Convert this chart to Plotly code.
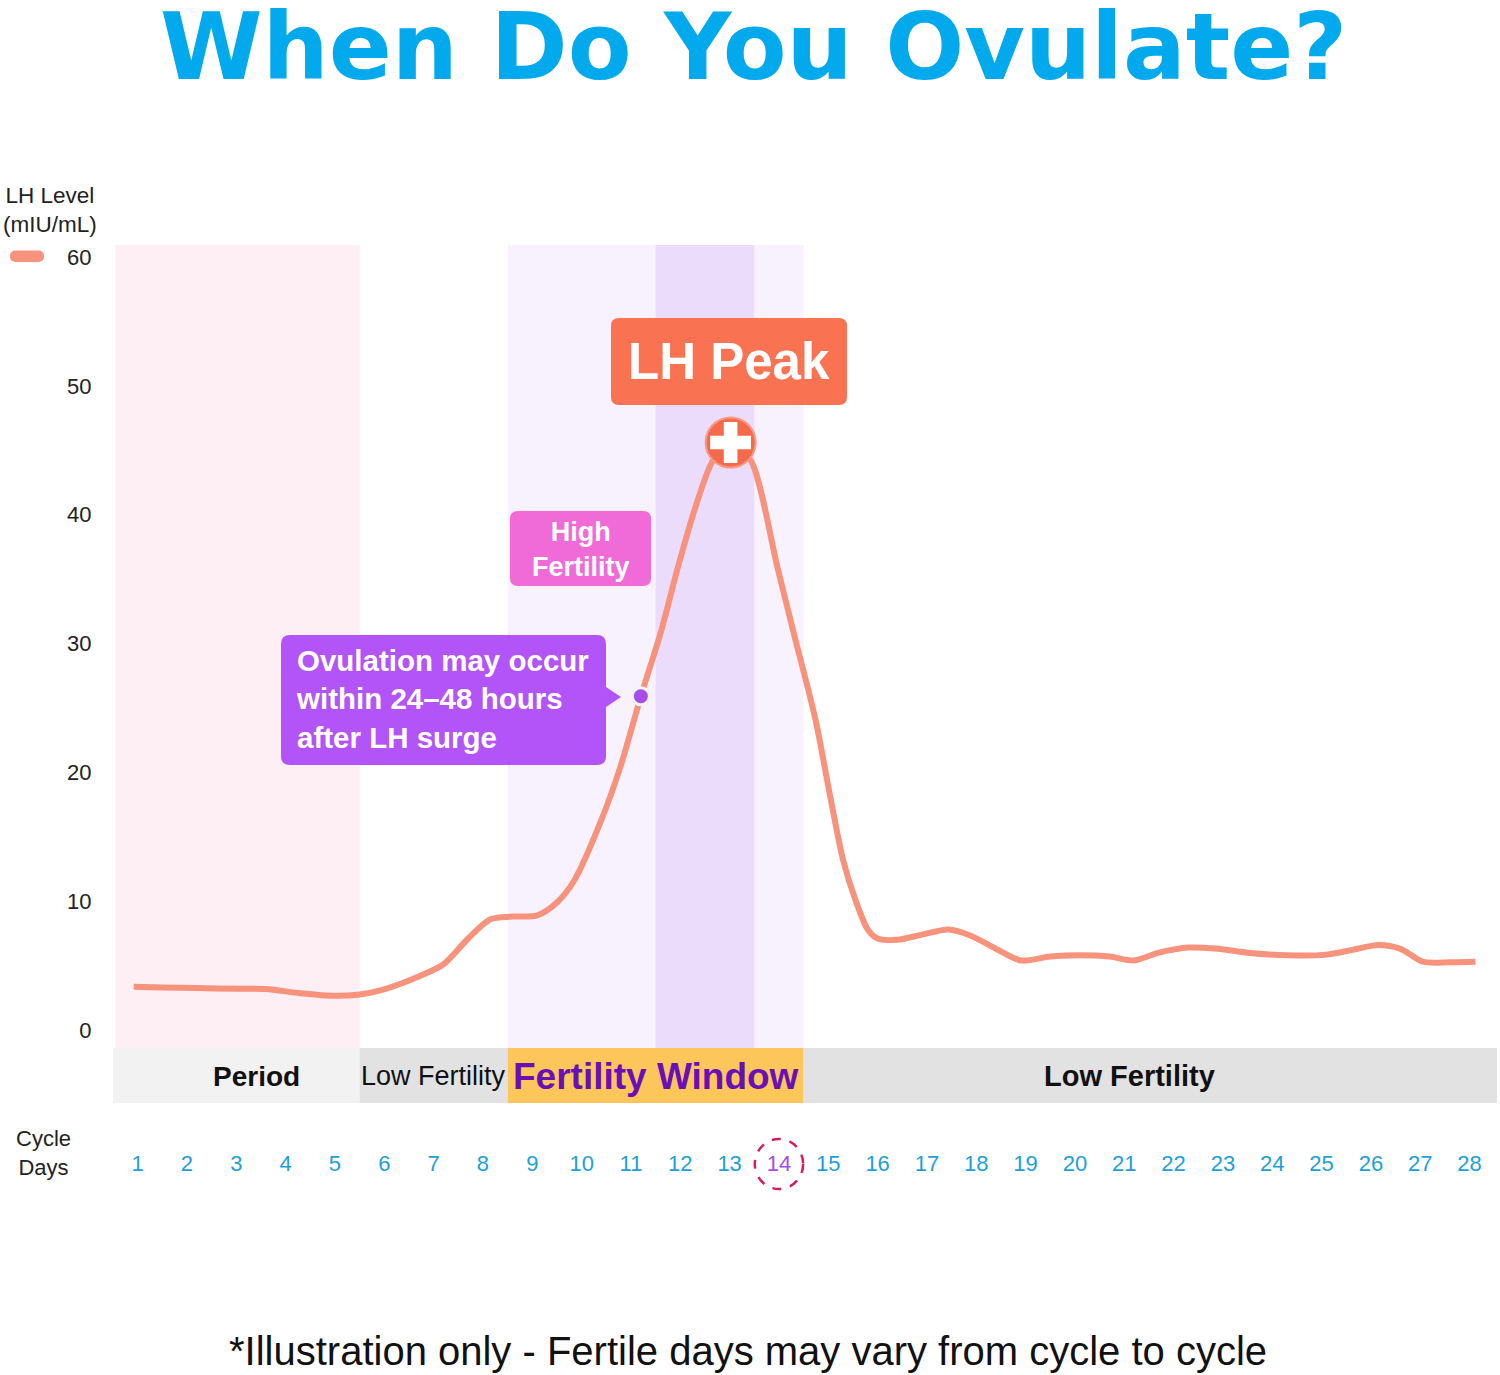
import plotly.graph_objects as go

# ---------------- data ----------------
lh_days = [0.92, 1.5, 2.2, 3.0, 3.6, 4.3, 5.0, 5.5, 5.9, 6.6, 7.2, 7.7, 8.15, 8.6, 9.1,
           9.5, 9.85, 10.4, 10.8, 11.2, 11.6, 11.95, 12.3, 12.66, 13.02, 13.43, 13.97,
           14.3, 14.74, 15.05, 15.3, 15.55, 15.8, 16.0, 16.4, 16.9, 17.44, 17.9, 18.4,
           18.9, 19.5, 20.1, 20.7, 21.2, 21.7, 22.3, 22.9, 23.5, 24.3, 25.1, 25.6,
           26.15, 26.6, 27.05, 27.6, 28.12]
lh_values = [3.35, 3.3, 3.25, 3.2, 3.18, 2.85, 2.65, 2.75, 3.05, 4.0, 5.1, 7.1, 8.6, 8.8, 8.9,
             9.9, 11.6, 16.3, 20.6, 25.9, 30.8, 35.9, 40.5, 44.2, 45.6, 44.2, 35.9,
             30.8, 24.1, 17.9, 13.2, 10.1, 7.8, 7.1, 7.0, 7.4, 7.8, 7.3, 6.3,
             5.4, 5.7, 5.8, 5.7, 5.4, 6.0, 6.4, 6.3, 6.0, 5.8, 5.85, 6.2,
             6.6, 6.3, 5.3, 5.25, 5.3]
ovulation_day = 11.2

cycle_days = list(range(1, 29))
highlight_day = 14
y_ticks = [0, 10, 20, 30, 40, 50, 60]

phase_names = ["Period", "Low Fertility", "Fertility Window", "Low Fertility"]
phase_start = [0.5, 5.5, 8.5, 14.5]
phase_end = [5.5, 8.5, 14.5, 28.556]
phase_label_x = [3.4, 7.0, 11.5, 21.1]

period_shade = (0.55, 5.5)
fertile_shade = (8.5, 14.5)
peak_shade = (11.5, 13.5)

# ---------------- geometry ----------------
W, H = 1500, 1375
L, R, T, B = 113, 3, 245, 272
PW, PH = W - L - R, H - T - B


def px(x):
    return (x - L) / PW


def py(y):
    return (H - B - y) / PH


def rrect(x0, y0, x1, y1, r, pointer=None):
    pts = f"M {px(x0 + r)} {py(y0)} L {px(x1 - r)} {py(y0)} Q {px(x1)} {py(y0)} {px(x1)} {py(y0 + r)} "
    if pointer:
        ya, yb, xt, yt = pointer
        pts += f"L {px(x1)} {py(ya)} L {px(xt)} {py(yt)} L {px(x1)} {py(yb)} "
    pts += (f"L {px(x1)} {py(y1 - r)} Q {px(x1)} {py(y1)} {px(x1 - r)} {py(y1)} "
            f"L {px(x0 + r)} {py(y1)} Q {px(x0)} {py(y1)} {px(x0)} {py(y1 - r)} "
            f"L {px(x0)} {py(y0 + r)} Q {px(x0)} {py(y0)} {px(x0 + r)} {py(y0)} Z")
    return pts


fig = go.Figure()

# LH curve
fig.add_trace(go.Scatter(
    x=lh_days, y=lh_values, mode="lines",
    line=dict(color="#f7937c", width=6, shape="spline", smoothing=0.8),
    hoverinfo="skip", showlegend=False))

# peak marker
pk = max(range(len(lh_values)), key=lambda i: lh_values[i])
fig.add_trace(go.Scatter(
    x=[lh_days[pk]], y=[lh_values[pk]], mode="markers",
    marker=dict(symbol="circle", size=50, color="#f46a4b",
                line=dict(color="#f89a84", width=2)),
    hoverinfo="skip", showlegend=False))
fig.add_trace(go.Scatter(
    x=[lh_days[pk]], y=[lh_values[pk]], mode="markers",
    marker=dict(symbol="cross", size=34, color="white", line=dict(width=0)),
    hoverinfo="skip", showlegend=False))

# ovulation marker
oi = lh_days.index(ovulation_day)
fig.add_trace(go.Scatter(
    x=[ovulation_day], y=[lh_values[oi]], mode="markers",
    marker=dict(symbol="circle", size=17, color="#a64de6",
                line=dict(color="#f2f2f2", width=3)),
    hoverinfo="skip", showlegend=False))

shapes = []
# background shading
for (a, b), col in [(period_shade, "#fdeff3"), (fertile_shade, "#f7f2fd"), (peak_shade, "#ebdcfc")]:
    shapes.append(dict(type="rect", xref="x", yref="paper", x0=a, x1=b,
                       y0=py(1048), y1=1, fillcolor=col, line=dict(width=0), layer="below"))

# phase band
band_cols = ["#f2f2f2", "#e2e2e2", "#fdc65a", "#e2e2e2"]
for a, b, col in zip(phase_start, phase_end, band_cols):
    shapes.append(dict(type="rect", xref="x", yref="paper", x0=a, x1=b,
                       y0=0, y1=py(1048), fillcolor=col, line=dict(width=0), layer="below"))

# callout boxes
shapes.append(dict(type="path", xref="paper", yref="paper", path=rrect(611, 318, 847, 405, 8),
                   fillcolor="#f97352", line=dict(width=0), layer="above"))
shapes.append(dict(type="path", xref="paper", yref="paper", path=rrect(510, 511, 651, 586, 8),
                   fillcolor="#f06bd8", line=dict(width=0), layer="above"))
shapes.append(dict(type="path", xref="paper", yref="paper",
                   path=rrect(281, 635, 606, 765, 9, pointer=(687, 707, 621, 697)),
                   fillcolor="#b354f8", line=dict(width=0), layer="above"))

# legend pill
shapes.append(dict(type="path", xref="paper", yref="paper", path=rrect(10, 250.5, 44, 262, 5.7),
                   fillcolor="#f7937c", line=dict(width=0), layer="above"))

# dashed circle around highlighted day
shapes.append(dict(type="circle", xref="x", yref="paper",
                   x0=highlight_day - 0.49, x1=highlight_day + 0.49,
                   y0=py(1189), y1=py(1139), line=dict(color="#d81b60", width=2.5, dash="dash"),
                   fillcolor="rgba(0,0,0,0)"))

ann = []
ann.append(dict(text="<b>When Do You Ovulate?</b>", xref="paper", yref="paper",
                x=px(753), y=py(47), xanchor="center", yanchor="middle", showarrow=False,
                font=dict(family="DejaVu Sans, sans-serif", size=93, color="#02a9ec", weight=900)))
ann.append(dict(text="*Illustration only - Fertile days may vary from cycle to cycle", xref="paper", yref="paper",
                x=px(748), y=py(1351), xanchor="center", yanchor="middle", showarrow=False,
                font=dict(family="Liberation Sans, Arial, sans-serif", size=40, color="#111111")))
ann.append(dict(text="LH Level<br>(mIU/mL)", xref="paper", yref="paper",
                x=px(50), y=py(210), xanchor="center", yanchor="middle", showarrow=False,
                font=dict(family="Liberation Sans, Arial, sans-serif", size=22.5, color="#222222")))
ann.append(dict(text="Cycle<br>Days", xref="paper", yref="paper",
                x=px(43), y=py(1153), xanchor="center", yanchor="middle", showarrow=False,
                font=dict(family="Liberation Sans, Arial, sans-serif", size=22, color="#222222")))

# phase labels
label_fonts = [
    dict(family="Liberation Sans, Arial, sans-serif", size=28, color="#111111", weight="bold"),
    dict(family="Liberation Sans Narrow, Arial Narrow, sans-serif", size=27, color="#111111"),
    dict(family="Liberation Sans, Arial, sans-serif", size=37, color="#6a0fb8", weight="bold"),
    dict(family="Liberation Sans, Arial, sans-serif", size=29, color="#111111", weight="bold"),
]
for name, xl, f in zip(phase_names, phase_label_x, label_fonts):
    ann.append(dict(text=name, xref="x", yref="paper", x=xl, y=py(1076),
                    xanchor="center", yanchor="middle", showarrow=False, font=f))

ann.append(dict(text="<b>LH Peak</b>", xref="paper", yref="paper", x=px(729), y=py(361),
                xanchor="center", yanchor="middle", showarrow=False,
                font=dict(family="Liberation Sans, Arial, sans-serif", size=51, color="white")))
ann.append(dict(text="<b>High<br>Fertility</b>", xref="paper", yref="paper", x=px(581), y=py(549),
                xanchor="center", yanchor="middle", showarrow=False,
                font=dict(family="Liberation Sans, Arial, sans-serif", size=27, color="white")))
ann.append(dict(text="<b>Ovulation may occur<br>within 24–48 hours<br>after LH surge</b>",
                xref="paper", yref="paper", x=px(294), y=py(699), xanchor="left", yanchor="middle",
                align="left", showarrow=False,
                font=dict(family="Liberation Sans, Arial, sans-serif", size=29.5, color="white")))

tick_text = [f"<span style='color:#a64de6'>{d}</span>" if d == highlight_day else str(d) for d in cycle_days]

fig.update_layout(
    width=W, height=H, margin=dict(l=L, r=R, t=T, b=B, pad=0),
    paper_bgcolor="white", plot_bgcolor="rgba(0,0,0,0)",
    shapes=shapes, annotations=ann, showlegend=False,
    xaxis=dict(range=[0.5, 28.556], tickvals=cycle_days, ticktext=tick_text,
               showgrid=False, zeroline=False, showline=False,
               ticks="outside", ticklen=41, tickcolor="rgba(0,0,0,0)",
               tickfont=dict(family="Liberation Sans, Arial, sans-serif", size=22, color="#1e9fd8")),
    yaxis=dict(range=[-5.667, 60.93], tickvals=y_ticks, showgrid=False, zeroline=False,
               showline=False, ticks="outside", ticklen=16, tickcolor="rgba(0,0,0,0)",
               tickfont=dict(family="Liberation Sans, Arial, sans-serif", size=22, color="#222222")),
)

fig.write_html("out.html")
